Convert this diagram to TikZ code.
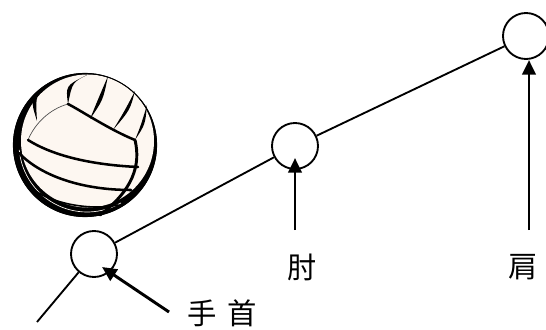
\documentclass[tikz,border=0pt]{standalone}
\usepackage{fontspec}
\newfontfamily\jpfont{Noto Sans CJK JP}
\usepackage{tikz}
\usetikzlibrary{arrows.meta,positioning,calc}

\definecolor{ballcream}{RGB}{253,247,241}

% tapered seam: start, bend point, end, half thickness at the bend
\newcommand{\lensseam}[4]{%
  \fill ($(#1)$) .. controls ($(#2)+(#4)$) .. ($(#3)$)
                 .. controls ($(#2)-(#4)$) .. ($(#1)$);}

\begin{document}
\begin{tikzpicture}[x=0.75pt, y=0.75pt,
    joint/.style={circle, draw, line width=1.4pt, minimum size=34.5pt, inner sep=0pt, fill=white},
    limb/.style={line width=1.4pt},
    pointer/.style={line width=2.2pt, -{Triangle[length=11pt, width=10pt]}},
    lbl/.style={font=\jpfont\fontsize{22}{26}\selectfont, inner sep=0pt},
    seam/.style={line width=1.9pt, line cap=round},
    thinseam/.style={line width=0.5pt, black!70}]

    \useasboundingbox (0,0) rectangle (546,329);

    % Volleyball
    \begin{scope}[shift={(85,184)}]
        \fill[black] (0,0) circle (72);
        \begin{scope}
            \clip (0,0) circle (71.5);
            \fill[ballcream] (2.5,4) circle (66.5);
        \end{scope}
        \draw[ballcream, line width=0.5pt] (2,1) ++(185:68) arc (185:300:68);
        \draw[line width=0.7pt] (0,0) circle (71.6);

        % upper strips
        \lensseam{-42,58}{-52,46}{-48,24}{2.6,0.8}
        \lensseam{2,70}{-16,61}{-17,41}{3.4,1.6}
        \lensseam{23,69}{15,44}{5,26}{3.0,0.8}
        \lensseam{50,54}{42,34}{28,15}{3.0,1.0}
        \lensseam{62,40}{58,20}{50,5}{2.2,0.5}

        % front panel
        \draw[thinseam] (-57,5) .. controls (-50,22) and (-35,36) .. (-17,41);
        \draw[seam] (-17,41) .. controls (-5,35) and (25,15) .. (50,5);
        \draw[seam, line width=2.2pt] (50,5) .. controls (56,-20) and (48,-45) .. (15,-70);
        \draw[seam] (-57,5) .. controls (-30,-12) and (10,-20) .. (53,-22);
        \draw[seam] (-66,-8) .. controls (-45,-30) and (-5,-45) .. (46,-45);
        \draw[seam, line width=1.2pt] (-52,-44) .. controls (-35,-58) and (5,-66) .. (33,-60);
    \end{scope}

    % Joints
    \node[joint] (wrist) at (94,75) {};
    \node[joint] (elbow) at (295,183) {};
    \node[joint] (shoulder) at (526,293) {};
    \coordinate (hand) at (37,7);

    % Arm
    \draw[limb] (hand) -- (wrist);
    \draw[limb] (wrist) -- (elbow);
    \draw[limb] (elbow) -- (shoulder);

    % Labels
    \node[lbl] (wristlbl) at (222,16) {手\hspace{0.35em}首};
    \node[lbl] (elbowlbl) at (302,62) {肘};
    \node[lbl] (shoulderlbl) at (523,62) {肩};

    \coordinate (wristtail) at (169,17);
    \coordinate (elbowtail) at (295,99);
    \coordinate (shouldertail) at (529,99);

    % Pointers
    \draw[pointer] (wristtail) -- ($(wrist)+(8,-13)$);
    \draw[pointer] (elbowtail) -- ($(elbow)+(0,-12)$);
    \draw[pointer] (shouldertail) -- ($(shoulder)+(3,-24)$);

\end{tikzpicture}
\end{document}
